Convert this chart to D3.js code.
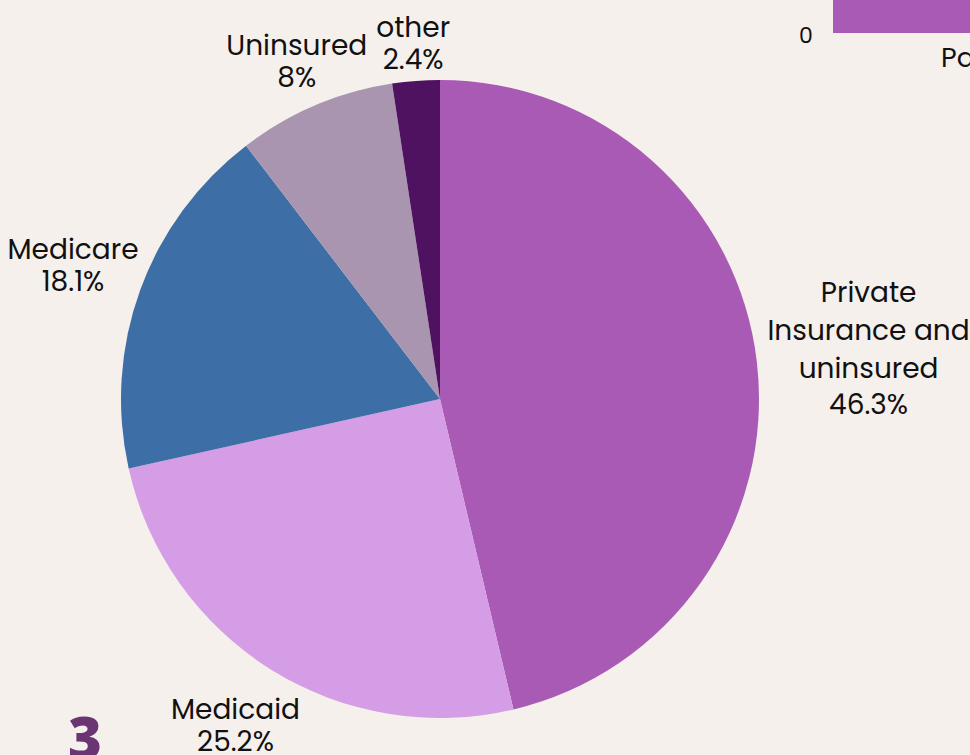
<!DOCTYPE html>
<html>
<head>
<meta charset="utf-8">
<script src="https://cdn.jsdelivr.net/npm/d3@7"></script>
<style>
  html, body { margin: 0; padding: 0; background: #f5f0ec; overflow: hidden; }
  svg { display: block; }
</style>
</head>
<body>
<div id="chart"></div>
<script>
// pie shares, clockwise from 12 o'clock
const categories = ['Private\nInsurance and\nuninsured', 'Medicaid', 'Medicare', 'Uninsured', 'other'];
const shares = [46.3, 25.2, 18.1, 8, 2.4];
const shareLabels = ['46.3%', '25.2%', '18.1%', '8%', '2.4%'];
const sliceColors = ['#a85ab4', '#d49de5', '#3d6ea6', '#aa95b0', '#4f1260'];

// clipped neighbouring bar chart (only its first bar peeks in)
const barCats = ['Pa'];
const barValues = [1];
const barTicks = ['0'];

const W = 970, H = 755;
const font = 'Poppins, "Noto Sans", sans-serif';

const svg = d3.select('#chart').append('svg')
  .attr('width', W)
  .attr('height', H)
  .style('background', '#f5f0ec');

// pie
const cx = 440, cy = 399, r = 319;
const g = svg.append('g').attr('transform', `translate(${cx},${cy})`);

const data = categories.map((c, i) => ({ name: c, value: shares[i], label: shareLabels[i], color: sliceColors[i] }));
const pie = d3.pie().sort(null).value(d => d.value);
const arc = d3.arc().innerRadius(0).outerRadius(r);
const arcs = pie(data);

g.selectAll('path.slice')
  .data(arcs)
  .enter().append('path')
  .attr('class', 'slice')
  .attr('d', arc)
  .attr('fill', d => d.data.color);

// outside labels: push each block out along its mid angle until it clears the pie
const fs = 28;
const lineH = 38;
arcs.forEach(a => {
  const mid = (a.startAngle + a.endAngle) / 2;
  const ux = Math.sin(mid), uy = -Math.cos(mid);
  // upper diagonal labels sit tighter against the pie
  const gap = 12 + 35 * Math.min(0, uy * Math.abs(ux));
  const lines = a.data.name.split('\n');
  const t = g.append('text')
    .attr('text-anchor', 'middle')
    .attr('font-family', font)
    .attr('font-size', fs)
    .attr('fill', '#111');
  lines.forEach((l, i) => {
    t.append('tspan').attr('x', 0).attr('dy', i === 0 ? 0 : lineH).text(l);
  });
  const valDy = lines.length > 1 ? 36 : 32;
  t.append('tspan').attr('x', 0).attr('dy', valDy).text(a.data.label);

  // ink box relative to first baseline
  const bb = t.node().getBBox();
  const w = bb.width;
  const top = -0.7 * fs;
  const bottom = (lines.length - 1) * lineH + valDy + 0.05 * fs;
  const h = bottom - top;

  let d = r - 40;
  let bx, byc;
  for (; d < r + 300; d += 0.5) {
    bx = d * ux; byc = d * uy;
    const x0 = bx - w / 2, x1 = bx + w / 2, y0 = byc - h / 2, y1 = byc + h / 2;
    const nx = Math.max(x0, Math.min(0, x1));
    const ny = Math.max(y0, Math.min(0, y1));
    if (Math.hypot(nx, ny) >= r + gap) break;
  }
  const ty = byc - (top + h / 2);
  t.attr('transform', `translate(${bx},${ty})`);
});

// neighbouring bar chart fragment
const bxs = d3.scaleLinear().domain([0, 1]).range([833, 1300]);
svg.selectAll('rect.bar')
  .data(barValues)
  .enter().append('rect')
  .attr('class', 'bar')
  .attr('x', bxs(0))
  .attr('y', 0)
  .attr('width', v => bxs(v) - bxs(0))
  .attr('height', 33)
  .attr('fill', '#a85ab4');
svg.append('text')
  .attr('x', bxs(0) - 27)
  .attr('y', 43)
  .attr('text-anchor', 'middle')
  .attr('font-family', font)
  .attr('font-size', 22)
  .attr('fill', '#111')
  .text(barTicks[0]);
svg.append('text')
  .attr('x', 941)
  .attr('y', 67)
  .attr('font-family', font)
  .attr('font-size', 27)
  .attr('fill', '#111')
  .text(barCats[0]);

// page number
svg.append('text')
  .attr('x', 85)
  .attr('y', 759)
  .attr('text-anchor', 'middle')
  .attr('font-family', '"Open Sans", "DejaVu Sans", sans-serif')
  .attr('font-weight', 800)
  .attr('font-size', 58)
  .attr('fill', '#6a3572')
  .text('3');
</script>
</body>
</html>
